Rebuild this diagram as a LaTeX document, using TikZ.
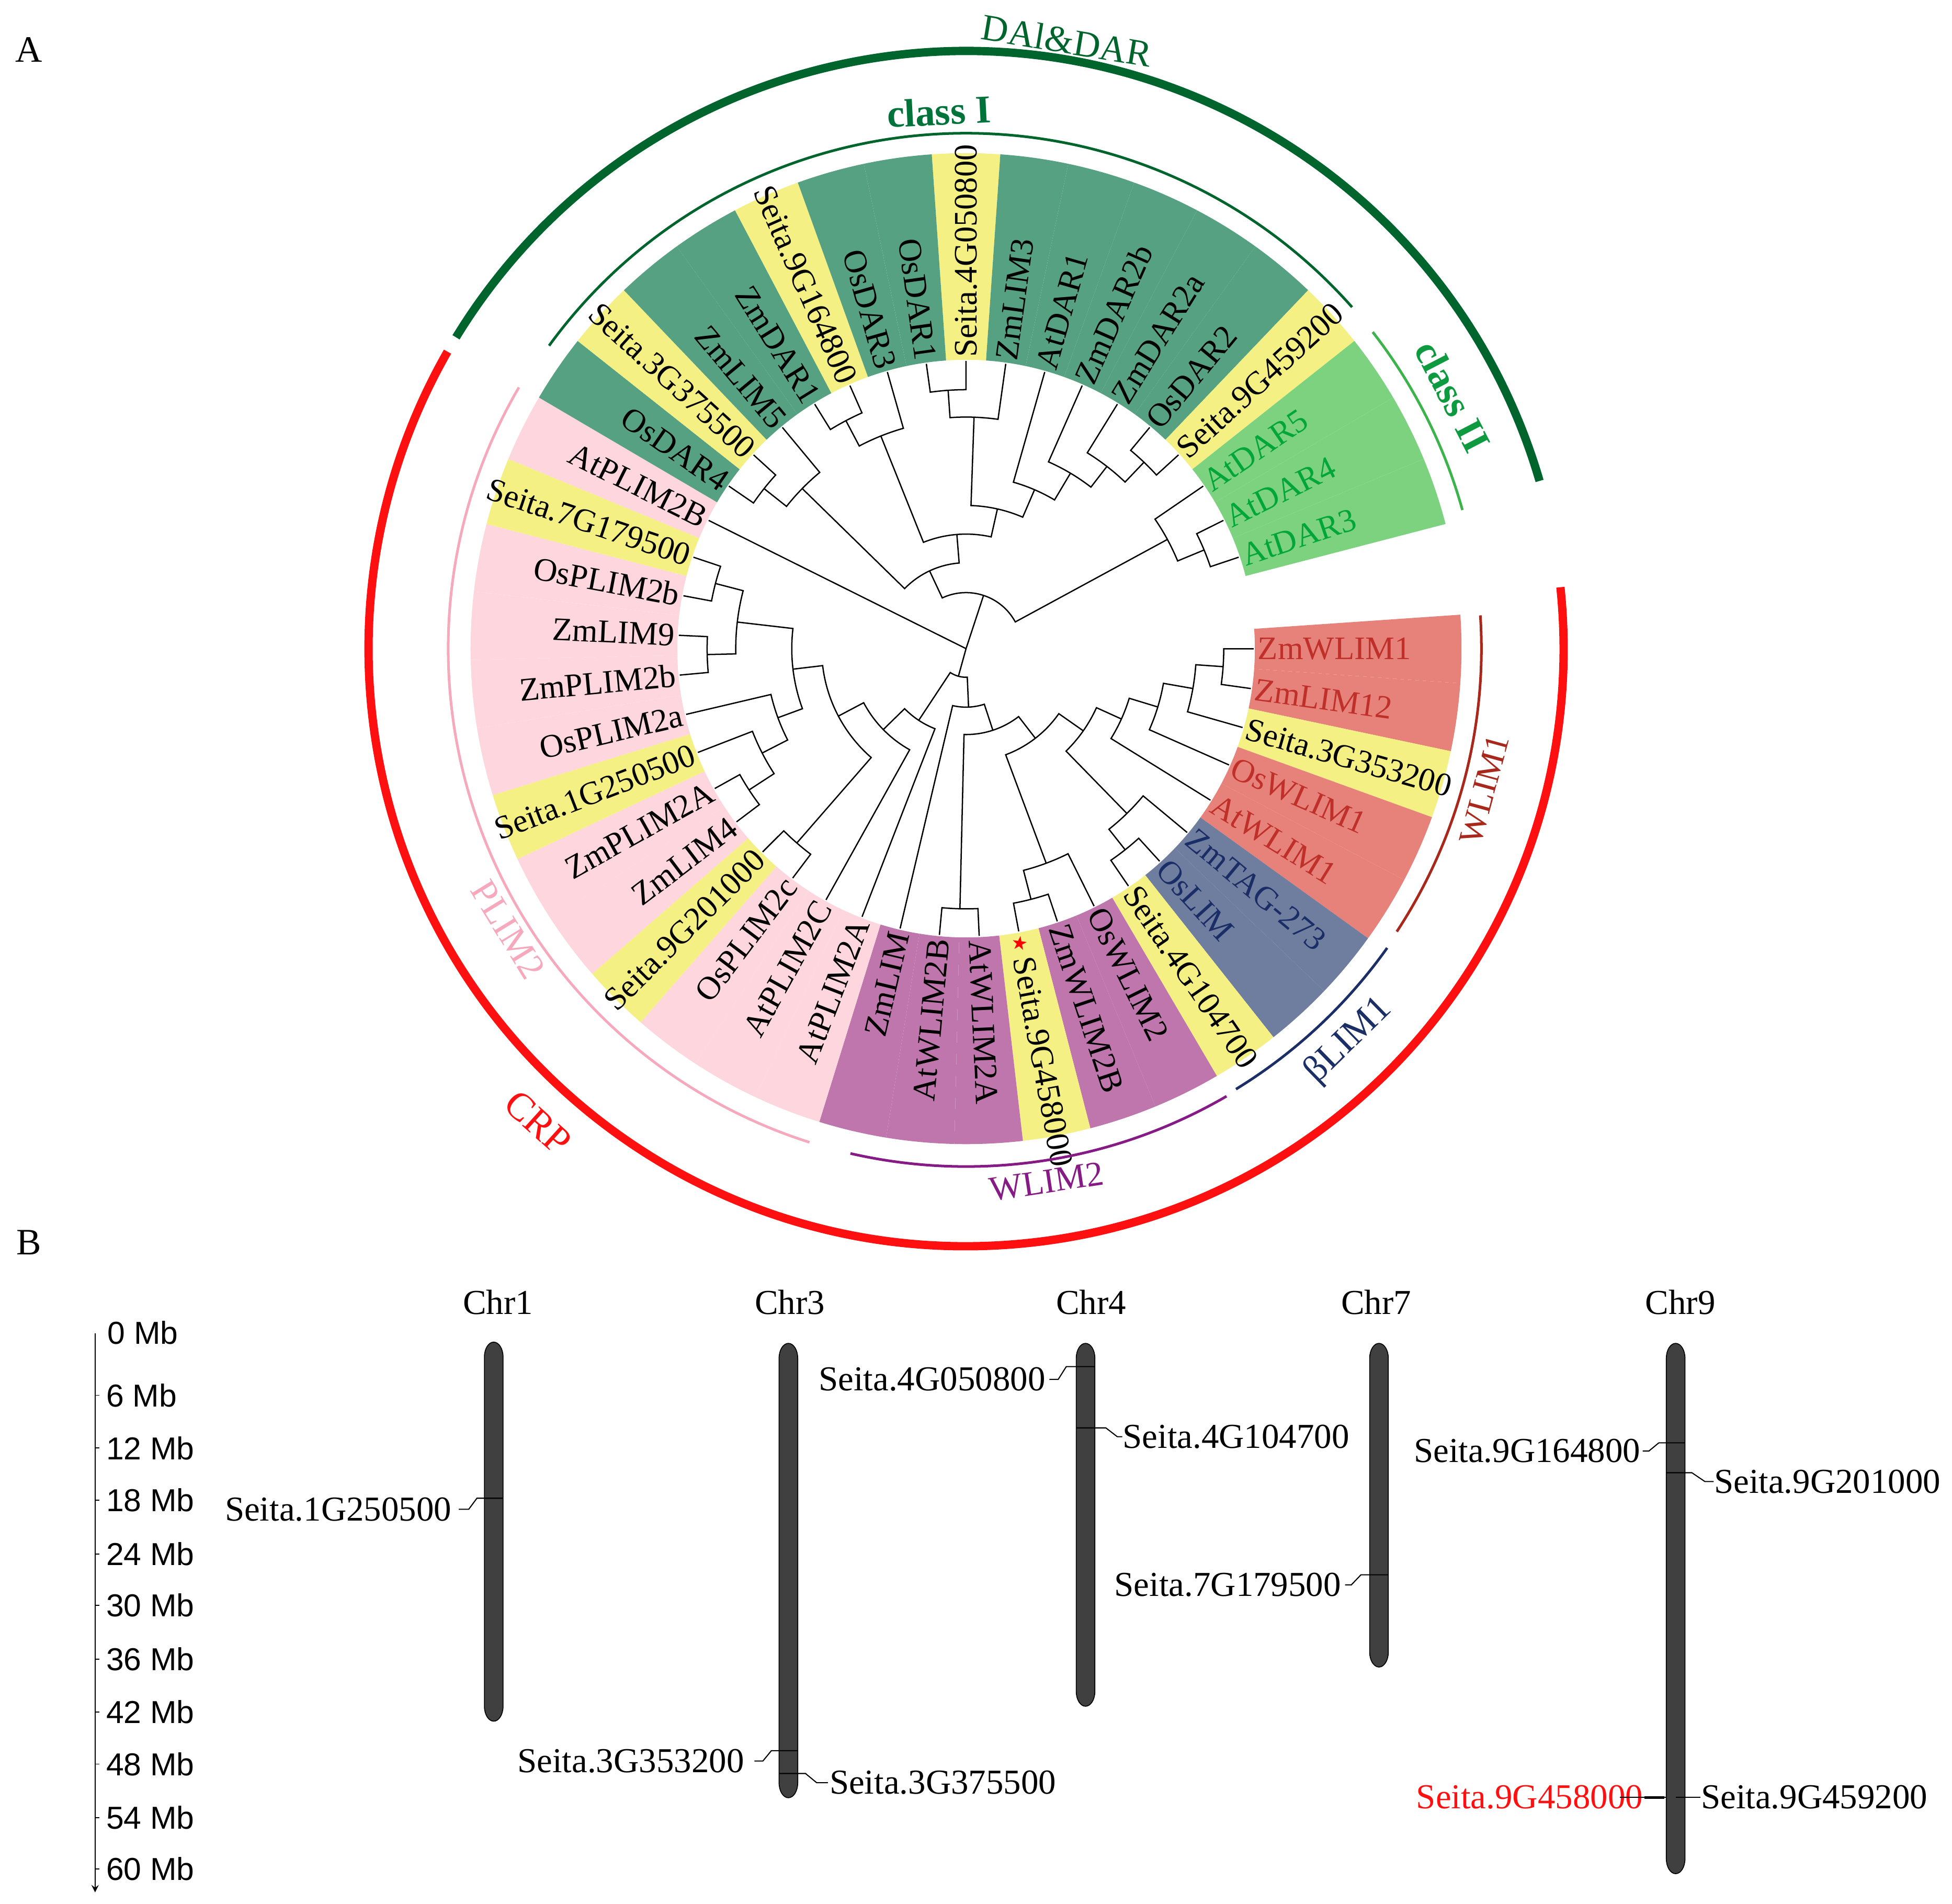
\documentclass[tikz,border=0pt]{standalone}
\usepackage{fontspec}
\setmainfont{Liberation Serif}
\setsansfont{Liberation Sans}
\newfontfamily\starfont{DejaVu Sans}
\usepackage{tikz}
\usetikzlibrary{arrows, positioning}

\definecolor{daigreen}{HTML}{00642D}
\definecolor{classonegreen}{HTML}{00733A}
\definecolor{classtwogreen}{HTML}{3CB44B}
\definecolor{classtwotext}{HTML}{0E9A3E}
\definecolor{crpred}{HTML}{FF1010}
\definecolor{plimpink}{HTML}{F6A9BC}
\definecolor{wlimtwo}{HTML}{861B86}
\definecolor{betanavy}{HTML}{1B2F66}
\definecolor{wlimone}{HTML}{A8281C}
\definecolor{secdg}{HTML}{57A183}
\definecolor{seclg}{HTML}{7DD280}
\definecolor{secyl}{HTML}{F5F084}
\definecolor{secrd}{HTML}{E6827A}
\definecolor{secbl}{HTML}{6F7D9E}
\definecolor{secpu}{HTML}{BE76AD}
\definecolor{secpk}{HTML}{FDD6DE}
\definecolor{txtgreen}{HTML}{00A63A}
\definecolor{txtred}{HTML}{C0302A}
\definecolor{txtnavy}{HTML}{1A2D66}
\definecolor{chromgray}{HTML}{404040}

\tikzstyle{branch} = [line width=0.6pt, black]
\tikzstyle{leaflabel} = [inner sep=0pt, font=\fontsize{15}{18}\selectfont]
\tikzstyle{familyarc} = [line width=3.8pt]
\tikzstyle{cladearc} = [line width=1.2pt]
\tikzstyle{grouplabel} = [inner sep=0pt, font=\fontsize{17}{20}\selectfont]
\tikzstyle{chrom} = [fill=chromgray, draw=black, line width=0.4pt]
\tikzstyle{chrlabel} = [inner sep=0pt, anchor=base, font=\fontsize{16}{19}\selectfont]
\tikzstyle{genelabel} = [inner sep=0pt, font=\fontsize{16}{19}\selectfont]
\tikzstyle{genelink} = [line width=0.5pt]
\tikzstyle{scalelabel} = [inner sep=0pt, anchor=west, font=\sffamily\fontsize{14.5}{17}\selectfont]
\tikzstyle{panel} = [inner sep=0pt, font=\fontsize{17}{20}\selectfont]

% leaf: angle, sector colour, text colour, name, text, side (R/L)
\newcommand{\leaf}[6]{%
  \fill[#2] (#1-3.97:232) arc[start angle=#1-3.97, end angle=#1+3.97, radius=232] -- (#1+3.97:398) arc[start angle=#1+3.97, end angle=#1-3.97, radius=398] -- cycle;
  \if#6R
    \node[leaflabel, text=#3, rotate=#1, anchor=west] (#4) at (#1:234) {#5};
  \else
    \node[leaflabel, text=#3, rotate=#1+180, anchor=east] (#4) at (#1:234) {#5};
  \fi}
% clade: radius, angle 1, child radius 1, angle 2, child radius 2
\newcommand{\clade}[5]{%
  \draw[branch] (#2:#3) -- (#2:#1) arc[start angle=#2, end angle=#4, radius=#1] -- (#4:#5);}
% chromosome: x, top, bottom
\newcommand{\chromosome}[3]{%
  \draw[chrom] (#1-7.5,-#2-12) arc[start angle=180, end angle=0, x radius=7.5, y radius=12] -- (#1+7.5,-#3+12) arc[start angle=0, end angle=-180, x radius=7.5, y radius=12] -- cycle;}

\begin{document}
\begin{tikzpicture}[x=0.2mm, y=0.2mm]
\useasboundingbox (0,0) rectangle (1568,-1529);

\node[panel] (panelA) at (23,-40) {A};
\node[panel] (panelB) at (23,-998) {B};

\begin{scope}[shift={(776,-521)}]
% sectors and leaf names
\leaf{90.00}{secyl}{black}{t4G050800}{Seita.4G050800}{R}
\leaf{82.06}{secdg}{black}{zmlim3}{ZmLIM3}{R}
\leaf{74.12}{secdg}{black}{atdar1}{AtDAR1}{R}
\leaf{66.18}{secdg}{black}{zmdar2b}{ZmDAR2b}{R}
\leaf{58.24}{secdg}{black}{zmdar2a}{ZmDAR2a}{R}
\leaf{50.30}{secdg}{black}{osdar2}{OsDAR2}{R}
\leaf{42.36}{secyl}{black}{t9G459200}{Seita.9G459200}{R}
\leaf{34.42}{seclg}{txtgreen}{atdar5}{AtDAR5}{R}
\leaf{26.48}{seclg}{txtgreen}{atdar4}{AtDAR4}{R}
\leaf{18.54}{seclg}{txtgreen}{atdar3}{AtDAR3}{R}
\leaf{-0.04}{secrd}{txtred}{zmwlim1}{ZmWLIM1}{R}
\leaf{-7.98}{secrd}{txtred}{zmlim12}{ZmLIM12}{R}
\leaf{-15.92}{secyl}{black}{t3G353200}{Seita.3G353200}{R}
\leaf{-23.86}{secrd}{txtred}{oswlim1}{OsWLIM1}{R}
\leaf{-31.80}{secrd}{txtred}{atwlim1}{AtWLIM1}{R}
\leaf{-39.74}{secbl}{txtnavy}{zmtag}{ZmTAG-273}{R}
\leaf{-47.68}{secbl}{txtnavy}{oslim}{OsLIM}{R}
\leaf{-55.62}{secyl}{black}{t4G104700}{Seita.4G104700}{R}
\leaf{-63.56}{secpu}{black}{oswlim2}{OsWLIM2}{R}
\leaf{-71.50}{secpu}{black}{zmwlim2b}{ZmWLIM2B}{R}
\leaf{-79.44}{secyl}{black}{t9G458000}{{\starfont\fontsize{8.5}{10}\selectfont\color{red}\raisebox{1.5pt}{★}}\,Seita.9G458000}{R}
\leaf{-87.38}{secpu}{black}{atwlim2a}{AtWLIM2A}{R}
\leaf{-95.32}{secpu}{black}{atwlim2b}{AtWLIM2B}{L}
\leaf{-103.26}{secpu}{black}{zmlim}{ZmLIM}{L}
\leaf{-111.20}{secpk}{black}{atplim2a}{AtPLIM2A}{L}
\leaf{-119.14}{secpk}{black}{atplim2c}{AtPLIM2C}{L}
\leaf{-127.08}{secpk}{black}{osplim2c}{OsPLIM2c}{L}
\leaf{-135.02}{secyl}{black}{t9G201000}{Seita.9G201000}{L}
\leaf{-142.96}{secpk}{black}{zmlim4}{ZmLIM4}{L}
\leaf{-150.90}{secpk}{black}{zmplim2a}{ZmPLIM2A}{L}
\leaf{-158.84}{secyl}{black}{t1G250500}{Seita.1G250500}{L}
\leaf{-166.78}{secpk}{black}{osplim2a}{OsPLIM2a}{L}
\leaf{-174.72}{secpk}{black}{zmplim2b}{ZmPLIM2b}{L}
\leaf{-182.66}{secpk}{black}{zmlim9}{ZmLIM9}{L}
\leaf{-190.60}{secpk}{black}{osplim2b}{OsPLIM2b}{L}
\leaf{-198.54}{secyl}{black}{t7G179500}{Seita.7G179500}{L}
\leaf{153.52}{secpk}{black}{atplim2b}{AtPLIM2B}{L}
\leaf{145.58}{secdg}{black}{osdar4}{OsDAR4}{L}
\leaf{137.64}{secyl}{black}{t3G375500}{Seita.3G375500}{L}
\leaf{129.70}{secdg}{black}{zmlim5}{ZmLIM5}{L}
\leaf{121.76}{secdg}{black}{zmdar1}{ZmDAR1}{L}
\leaf{113.82}{secyl}{black}{t9G164800}{Seita.9G164800}{L}
\leaf{105.88}{secdg}{black}{osdar3}{OsDAR3}{L}
\leaf{97.94}{secdg}{black}{osdar1}{OsDAR1}{L}

% tree, DA1/DAR part
\clade{208}{90}{231}{97.94}{231}
\clade{186}{93.97}{208}{82.06}{231}
\clade{207}{50.30}{231}{42.36}{231}
\clade{185}{58.24}{231}{46.33}{207}
\clade{164}{66.18}{231}{52.29}{185}
\clade{139}{74.12}{231}{59.24}{164}
\clade{115}{88.02}{186}{66.68}{139}
\clade{207}{121.76}{231}{113.82}{231}
\clade{184}{117.79}{207}{105.88}{231}
\clade{92}{111.84}{184}{77.35}{115}
\clade{207}{145.58}{231}{137.64}{231}
\clade{184}{141.61}{207}{129.70}{231}
\clade{69}{135.66}{184}{94.60}{92}
\clade{207}{26.48}{231}{18.54}{231}
\clade{184}{34.42}{231}{22.51}{207}
\clade{45}{115.13}{69}{28.47}{184}
% tree, CRP part
\clade{208}{-190.60}{231}{-198.54}{231}
\clade{208}{-174.72}{231}{-182.66}{231}
\clade{185}{-194.57}{208}{-178.69}{208}
\clade{208}{-142.96}{231}{-150.90}{231}
\clade{184}{-158.84}{231}{-146.93}{208}
\clade{161}{-166.78}{231}{-152.89}{184}
\clade{140}{-186.63}{185}{-159.84}{161}
\clade{207}{-127.08}{231}{-135.02}{231}
\clade{116}{-173.24}{140}{-131.05}{207}
\clade{93}{-152.15}{116}{-119.14}{231}
\clade{69}{-135.65}{93}{-111.20}{231}
\clade{207}{-0.04}{231}{-7.98}{231}
\clade{185}{-4.01}{207}{-15.92}{231}
\clade{161}{-9.97}{185}{-23.86}{231}
\clade{137}{-16.92}{161}{-31.80}{231}
\clade{206}{-47.68}{231}{-55.62}{231}
\clade{185}{-39.74}{231}{-51.65}{206}
\clade{115}{-24.36}{137}{-45.70}{185}
\clade{208}{-71.50}{231}{-79.44}{231}
\clade{184}{-63.56}{231}{-75.47}{208}
\clade{91}{-35.03}{115}{-69.52}{184}
\clade{209}{-87.38}{231}{-95.32}{231}
\clade{69}{-52.28}{91}{-91.35}{209}
\clade{47}{-71.82}{69}{-103.26}{231}
\clade{23}{-87.54}{47}{-123.43}{69}
% root
\coordinate (root) at (0,0);
\draw[branch] (root) -- (71.80:45);
\draw[branch] (root) -- (153.52:231);
\draw[branch] (root) -- (-105.49:23);

% group arcs
\draw[familyarc, daigreen] (16.3:480) arc[start angle=16.3, end angle=148.6, radius=480];
\draw[familyarc, crpred] (5.9:480) arc[start angle=5.9, end angle=-209.8, radius=480];
\draw[cladearc, daigreen] (41.5:414) arc[start angle=41.5, end angle=144, radius=414];
\draw[cladearc, classtwogreen] (15.6:414) arc[start angle=15.6, end angle=37.9, radius=414];
\draw[cladearc, plimpink] (149.7:416) arc[start angle=149.7, end angle=252.4, radius=416];
\draw[cladearc, wlimtwo] (-102.9:416) arc[start angle=-102.9, end angle=-59.8, radius=416];
\draw[cladearc, betanavy] (-58.5:415) arc[start angle=-58.5, end angle=-35.4, radius=415];
\draw[cladearc, wlimone] (-33.3:414) arc[start angle=-33.3, end angle=3.7, radius=414];

\node[grouplabel, text=daigreen, rotate=-9.4] (dailbl) at (80.6:495) {DAl\&DAR};
\node[grouplabel, text=classonegreen, font=\fontsize{18}{21}\selectfont\bfseries, rotate=2.9] (class1lbl) at (92.9:432) {class I};
\node[grouplabel, text=classtwotext, font=\fontsize{18}{21}\selectfont\bfseries, rotate=-62.6] (class2lbl) at (27.4:440.5) {class II};
\node[grouplabel, text=crpred, font=\fontsize{18}{21}\selectfont, rotate=-42.1] (crplbl) at (-132.1:513) {CRP};
\node[grouplabel, text=plimpink, rotate=-58.5] (plimlbl) at (-148.5:431.5) {PLIM2};
\node[grouplabel, text=wlimtwo, font=\fontsize{16}{19}\selectfont, rotate=8.6] (wlim2lbl) at (-81.4:433) {WLIM2};
\node[grouplabel, text=betanavy, rotate=44.3] (betalbl) at (-45.7:440) {βLIM1};
\node[grouplabel, text=wlimone, font=\fontsize{15.5}{18}\selectfont, rotate=74.8] (wlim1lbl) at (-15.2:431.5) {WLIM1};
\end{scope}

% scale bar
\draw[->, >=stealth, line width=0.5pt] (76.4,-1071) -- (76.4,-1520);
\draw (76.4,-1120.8) -- (80,-1120.8);
\draw (76.4,-1163.1) -- (80,-1163.1);
\draw (76.4,-1205.1) -- (80,-1205.1);
\draw (76.4,-1248.2) -- (80,-1248.2);
\draw (76.4,-1289.5) -- (80,-1289.5);
\draw (76.4,-1332.6) -- (80,-1332.6);
\draw (76.4,-1375) -- (80,-1375);
\draw (76.4,-1417) -- (80,-1417);
\draw (76.4,-1460) -- (80,-1460);
\draw (76.4,-1501.3) -- (80,-1501.3);
\node[scalelabel] (mb0) at (86,-1070.5) {0 Mb};
\node[scalelabel] (mb6) at (85,-1120.8) {6 Mb};
\node[scalelabel] (mb12) at (85,-1163.1) {12 Mb};
\node[scalelabel] (mb18) at (85,-1205.1) {18 Mb};
\node[scalelabel] (mb24) at (85,-1248.2) {24 Mb};
\node[scalelabel] (mb30) at (85,-1289.5) {30 Mb};
\node[scalelabel] (mb36) at (85,-1332.6) {36 Mb};
\node[scalelabel] (mb42) at (85,-1375) {42 Mb};
\node[scalelabel] (mb48) at (85,-1417) {48 Mb};
\node[scalelabel] (mb54) at (85,-1460) {54 Mb};
\node[scalelabel] (mb60) at (85,-1501.3) {60 Mb};

% chromosomes
\chromosome{396.6}{1078}{1382.5}
\chromosome{633.3}{1079}{1444}
\chromosome{872}{1079}{1370.5}
\chromosome{1107.7}{1079}{1339}
\chromosome{1346}{1079}{1505}
\node[chrlabel] (chr1) at (400,-1055.5) {Chr1};
\node[chrlabel] (chr3) at (634.5,-1055.5) {Chr3};
\node[chrlabel] (chr4) at (876.5,-1055.5) {Chr4};
\node[chrlabel] (chr7) at (1105.5,-1055.5) {Chr7};
\node[chrlabel] (chr9) at (1349.8,-1055.5) {Chr9};

% gene positions
\coordinate (m1G250500) at (396.6,-1203.4);
\coordinate (m3G353200) at (633.3,-1406.2);
\coordinate (m3G375500) at (633.3,-1424.5);
\coordinate (m4G050800) at (872,-1097.7);
\coordinate (m4G104700) at (872,-1146.9);
\coordinate (m7G179500) at (1107.7,-1264.9);
\coordinate (m9G164800) at (1346,-1158.9);
\coordinate (m9G201000) at (1346,-1182.9);
\coordinate (m9G458000) at (1346,-1443.7);

\node[genelabel, anchor=east] (g1G250500) at (363,-1212.3) {Seita.1G250500};
\node[genelabel, anchor=east] (g3G353200) at (598,-1414.5) {Seita.3G353200};
\node[genelabel, anchor=west] (g3G375500) at (666,-1431.9) {Seita.3G375500};
\node[genelabel, anchor=east] (g4G050800) at (840,-1108) {Seita.4G050800};
\node[genelabel, anchor=west] (g4G104700) at (901.5,-1154) {Seita.4G104700};
\node[genelabel, anchor=east] (g7G179500) at (1077.5,-1273) {Seita.7G179500};
\node[genelabel, anchor=east] (g9G164800) at (1318,-1165.5) {Seita.9G164800};
\node[genelabel, anchor=west] (g9G201000) at (1376.5,-1190) {Seita.9G201000};
\node[genelabel, anchor=east, text=crpred] (g9G458000) at (1320,-1443.7) {Seita.9G458000};
\node[genelabel, anchor=west] (g9G459200) at (1366,-1443.7) {Seita.9G459200};

\draw[genelink] ([xshift=1.1mm]g1G250500.east) -- ++(1.6mm,0) -- ([xshift=-2.7mm]m1G250500) -- ([xshift=1.5mm]m1G250500);
\draw[genelink] ([xshift=1.6mm]g3G353200.east) -- ++(1.36mm,0) -- ([xshift=-2.74mm]m3G353200) -- ([xshift=1.5mm]m3G353200);
\draw[genelink] ([xshift=-1.5mm]m3G375500) -- ([xshift=2.74mm]m3G375500) -- ([xshift=-2mm]g3G375500.west) -- ([xshift=-0.2mm]g3G375500.west);
\draw[genelink] ([xshift=0.6mm]g4G050800.east) -- ++(1.4mm,0) -- ([xshift=-3.1mm]m4G050800) -- ([xshift=1.5mm]m4G050800);
\draw[genelink] ([xshift=-1.5mm]m4G104700) -- ([xshift=3.26mm]m4G104700) -- ([xshift=-0.8mm]g4G104700.west) -- (g4G104700.west);
\draw[genelink] ([xshift=0.6mm]g7G179500.east) -- ++(1mm,0) -- ([xshift=-2.9mm]m7G179500) -- ([xshift=1.5mm]m7G179500);
\draw[genelink] ([xshift=0.3mm]g9G164800.east) -- ++(1mm,0) -- ([xshift=-2.7mm]m9G164800) -- ([xshift=1.5mm]m9G164800);
\draw[genelink] ([xshift=-1.5mm]m9G201000) -- ([xshift=2.6mm]m9G201000) -- ([xshift=-1.4mm]g9G201000.west) -- (g9G201000.west);
\draw[genelink] ([xshift=-3.8mm]g9G458000.east) -- ([xshift=-1.5mm]m9G458000);
\draw[line width=1.2pt] ([xshift=-5mm]m9G458000) -- ([xshift=-1.8mm]m9G458000);
\draw[genelink] (m9G458000) -- (g9G459200.west);
\end{tikzpicture}
\end{document}
